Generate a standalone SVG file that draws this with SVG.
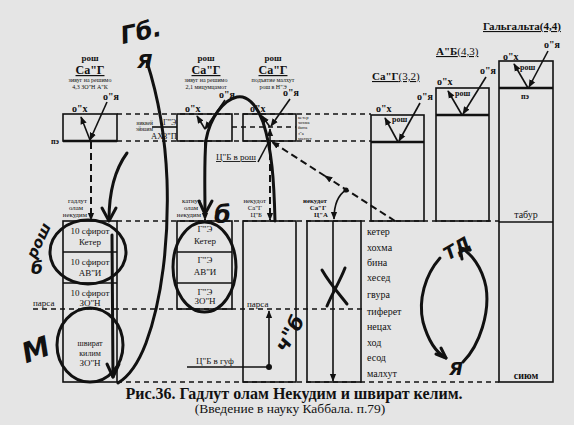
<svg xmlns="http://www.w3.org/2000/svg" width="574" height="425" viewBox="0 0 574 425">
<defs>
<marker id="ah" viewBox="0 0 10 10" refX="9" refY="5" markerWidth="8" markerHeight="8" markerUnits="userSpaceOnUse" orient="auto"><path d="M0,1 L10,5 L0,9 z" fill="#111"/></marker>
<style>
text{font-family:"Liberation Serif","Times New Roman",serif;fill:#111}
.s{stroke:#111;fill:none;stroke-width:1.6}
.k{stroke:#111;fill:none;stroke-width:2.4}
.d{stroke:#111;fill:none;stroke-width:1.3;stroke-dasharray:5 4}
.dv{stroke:#111;fill:none;stroke-width:2;stroke-dasharray:7 4;marker-end:url(#ah)}
.a{stroke:#111;fill:none;stroke-width:1.6;marker-end:url(#ah)}
.h{stroke:#111;fill:none;stroke-width:3;stroke-linecap:round;stroke-linejoin:round}
.hw{font-family:"DejaVu Sans",sans-serif;font-weight:bold;font-style:italic}
.bo{font-weight:bold}
.c{text-anchor:middle}
.r{text-anchor:end}
.u{text-decoration:underline}
.t5{font-size:5.5px}
.t4{font-size:4.6px}
.t6{font-size:6px}
.t7{font-size:6.8px}
.t9{font-size:9px}
.t10{font-size:10px}
</style>
</defs>
<rect x="0" y="0" width="574" height="425" fill="#e5e5e5"/>

<g id="connectors">
<line class="d" x1="117" y1="114" x2="371" y2="114"/>
<line class="d" x1="117" y1="141" x2="371" y2="141"/>
<line class="d" x1="232" y1="127" x2="296" y2="127"/>
<line class="d" x1="117" y1="221" x2="499" y2="221"/>
<line class="d" x1="33" y1="309" x2="362" y2="309"/>
<line class="d" x1="117" y1="382" x2="499" y2="382"/>
<line class="dv" x1="91" y1="142" x2="91" y2="220"/>
<line class="dv" x1="205" y1="142" x2="205" y2="220"/>
<line class="dv" x1="270" y1="142" x2="270" y2="220"/>
<line class="dv" x1="395" y1="221" x2="325" y2="176"/>
<line class="dv" x1="325" y1="176" x2="272" y2="142"/>
<circle cx="346" cy="190" r="2.6" fill="#111"/>
<path class="a" d="M346,190 C338,195 334,205 334,219"/>
<line class="s" x1="258" y1="162" x2="268" y2="143"/>
</g>

<g id="labels-top">
<text class="c bo t9" x="90" y="61">рош</text>
<text class="c bo u" x="90" y="74" font-size="12">Са"Г</text>
<text class="c t6" x="90" y="82">зивуг на решимо</text>
<text class="c t6" x="90" y="88.5">4,3 ЗО"Н А"К</text>
<text class="c bo t9" x="206" y="61">рош</text>
<text class="c bo u" x="206" y="74" font-size="12">Са"Г</text>
<text class="c t6" x="206" y="82">зивуг на решимо</text>
<text class="c t6" x="206" y="88.5">2,1 мицумцамот</text>
<text class="c bo t9" x="273" y="61">рош</text>
<text class="c bo u" x="273" y="74" font-size="12">Са"Г</text>
<text class="c t6" x="273" y="82">подъятие малхут</text>
<text class="c t6" x="273" y="88.5">рош в Н"Э</text>
</g>

<g id="rosh1">
<rect class="s" x="63" y="114" width="54" height="27"/>
<line class="k" x1="63" y1="141" x2="117" y2="141"/>
<text class="bo t10" x="72" y="112">о"х</text>
<text class="bo t10" x="103" y="100">о"я</text>
<line class="a" x1="107" y1="102" x2="90" y2="140"/>
<line class="a" x1="90" y1="140" x2="81" y2="117"/>
<text class="bo" font-size="8" x="51" y="144">пэ</text>
</g>

<g id="nikvey">
<text class="r t5" x="153" y="125">никвей</text>
<text class="r t5" x="153" y="131">эйнаим</text>
<text font-size="8" x="163" y="125">Г"Э</text>
<line class="s" x1="152" y1="127" x2="177" y2="127" stroke-width="1"/>
<text font-size="8.5" x="151" y="139">АХЗ"П</text>
</g>

<g id="rosh2">
<rect class="s" x="177" y="114" width="55" height="27"/>
<text class="bo t10" x="185" y="112">о"х</text>
<text class="bo t10" x="219" y="98">о"я</text>
<line class="a" x1="225" y1="100" x2="205" y2="129"/>
<line class="a" x1="205" y1="129" x2="197" y2="116"/>
</g>

<g id="rosh3">
<rect class="s" x="243" y="114" width="53" height="27"/>
<text class="bo t10" x="250" y="112">о"х</text>
<text class="bo t10" x="283" y="96">о"я</text>
<line class="a" x1="290" y1="99" x2="271" y2="126"/>
<line class="a" x1="270" y1="127" x2="262" y2="116"/>
<line class="a" x1="270" y1="141" x2="270" y2="129"/>
<text class="t4" x="298" y="119">кетер</text>
<text class="t4" x="298" y="124.2">хохма</text>
<text class="t4" x="298" y="129.4">бина</text>
<text class="t4" x="298" y="134.6">з"а</text>
<text class="t4" x="298" y="139.8">малхут</text>
<text class="u t9" x="216" y="160">Ц"Б в рош</text>
</g>

<g id="col1">
<text class="r t7" x="87" y="202.5">гадлут</text>
<text class="r t7" x="83" y="209.7">олам</text>
<text class="r t7" x="87" y="217">некудим</text>
<rect class="s" x="63" y="221" width="54" height="161"/>
<line class="s" x1="63" y1="252" x2="117" y2="252"/>
<line class="s" x1="63" y1="283" x2="117" y2="283"/>
<text class="c t9" x="90" y="234">10 сфирот</text>
<text class="c t9" x="90" y="245">Кетер</text>
<text class="c t9" x="90" y="265">10 сфирот</text>
<text class="c t9" x="90" y="276">АВ"И</text>
<text class="c t9" x="90" y="296">10 сфирот</text>
<text class="c t9" x="90" y="306">ЗО"Н</text>
<text class="t9" x="33" y="306">парса</text>
<text class="c" font-size="8" x="90" y="346">швират</text>
<text class="c" font-size="8" x="90" y="356">килим</text>
<text class="c t9" x="90" y="366">ЗО"Н</text>
</g>

<g id="col2">
<text class="r t7" x="201" y="202.5">катнут</text>
<text class="r t7" x="198" y="209.7">олам</text>
<text class="r t7" x="201" y="217">некудим</text>
<rect class="s" x="177" y="221" width="55" height="88"/>
<line class="s" x1="177" y1="252" x2="232" y2="252"/>
<line class="s" x1="177" y1="283" x2="232" y2="283"/>
<text class="c t9" x="205" y="232">Г"Э</text>
<text class="c t9" x="205" y="244">Кетер</text>
<text class="c t9" x="205" y="263">Г"Э</text>
<text class="c t9" x="205" y="275">АВ"И</text>
<text class="c t9" x="205" y="295">Г"Э</text>
<text class="c t9" x="205" y="304">ЗО"Н</text>
</g>

<g id="col3">
<text class="r t7" x="266" y="202.5">некудот</text>
<text class="r t7" x="262" y="209.7">Са"Г</text>
<text class="r t7" x="262" y="217">Ц"Б</text>
<rect class="s" x="243" y="221" width="53" height="161"/>
<text class="t9" x="247" y="307">парса</text>
<line class="a" x1="269" y1="367" x2="269" y2="311"/>
<line class="s" x1="187" y1="367" x2="269" y2="367" stroke-width="1.2"/>
<circle cx="269" cy="367" r="3" fill="#111"/>
<text class="t9" x="196" y="364">Ц"Б в гуф</text>
</g>

<g id="col4">
<text class="c bo t7" x="315" y="202.5">некудот</text>
<text class="c bo t7" x="318" y="209.7">Са"Г</text>
<text class="c bo t7" x="321" y="217">Ц"А</text>
<rect class="s" x="307" y="221" width="54" height="161"/>
<line class="a" x1="333" y1="221" x2="333" y2="381"/>
</g>

<g id="sfirot-list">
<text class="t10" x="367" y="235">кетер</text>
<text class="t10" x="367" y="251">хохма</text>
<text class="t10" x="367" y="266">бина</text>
<text class="t10" x="367" y="281">хесед</text>
<text class="t10" x="367" y="298">гвура</text>
<text class="t10" x="367" y="315">тиферет</text>
<text class="t10" x="367" y="330">нецах</text>
<text class="t10" x="367" y="346">ход</text>
<text class="t10" x="367" y="361">есод</text>
<text class="t10" x="367" y="377">малхут</text>
</g>

<g id="sag32">
<text class="u" font-size="11" x="372" y="80"><tspan class="bo">Са"Г</tspan>(3,2)</text>
<rect class="s" x="371" y="115" width="53" height="106"/>
<line class="k" x1="371" y1="142" x2="424" y2="142"/>
<text class="bo t10" x="376" y="112">о"х</text>
<text class="bo t10" x="417" y="100">о"я</text>
<text class="bo" font-size="8" x="392" y="122">рош</text>
<line class="a" x1="420" y1="103" x2="399" y2="141"/>
<line class="a" x1="398" y1="142" x2="385" y2="118"/>
</g>

<g id="ab43">
<text class="u" font-size="11" x="436" y="55"><tspan class="bo">А"Б</tspan>(4,3)</text>
<rect class="s" x="436" y="88" width="53" height="133"/>
<line class="k" x1="436" y1="115" x2="489" y2="115"/>
<text class="bo t10" x="437" y="85">о"х</text>
<text class="bo t10" x="480" y="74">о"я</text>
<text class="bo" font-size="8" x="455" y="96">рош</text>
<line class="a" x1="486" y1="77" x2="463" y2="114"/>
<line class="a" x1="462" y1="115" x2="448" y2="91"/>
</g>

<g id="galgalta">
<text class="u bo" font-size="11" x="483" y="30">Гальгальта(4,4)</text>
<rect class="s" x="499" y="61" width="54" height="321"/>
<line class="k" x1="499" y1="88" x2="553" y2="88"/>
<line class="s" x1="499" y1="222" x2="553" y2="222"/>
<text class="bo t10" x="503" y="60">о"х</text>
<text class="bo t10" x="544" y="48">о"я</text>
<text class="bo" font-size="8" x="520" y="70">рош</text>
<text class="bo" font-size="8" x="521" y="99">пэ</text>
<line class="a" x1="548" y1="51" x2="529" y2="87"/>
<line class="a" x1="528" y1="88" x2="514" y2="64"/>
<text class="c t10" x="526" y="218">табур</text>
<text class="c bo t10" x="526" y="379">сиюм</text>
</g>

<g id="handwriting">
<path class="h" d="M147,62 C156,90 165,130 167,180 C169,240 162,300 146,343 C138,364 128,377 118,383"/>
<path class="h" d="M127,153 C116,168 109,190 109,220"/>
<path class="h" d="M102,208 L109,221 L116,208"/>
<path class="h" d="M112,235 L113,377"/>
<path class="h" d="M107,364 L113,377 L119,364"/>
<ellipse class="h" cx="88" cy="252" rx="38" ry="32"/>
<ellipse class="h" cx="90" cy="345" rx="33" ry="37"/>
<path class="h" d="M275,221 C274,180 272,150 263,122 C256,103 246,95 237,97 C223,100 210,118 206,140 C204,162 205,190 205,213"/>
<path class="h" d="M199,201 L205,214 L212,201"/>
<ellipse class="h" cx="204.5" cy="267" rx="31.5" ry="45"/>
<path class="h" d="M322,270 C330,284 340,295 347,304"/>
<path class="h" d="M345,268 C340,281 332,294 327,306"/>
<path class="h" d="M440,258 C425,275 418,300 423,322 C428,340 435,352 446,358"/>
<path class="h" d="M436,354 L446,358 L441,348"/>
<path class="h" d="M463,362 C480,345 490,312 486,287 C482,267 471,253 461,248"/>
<path class="h" d="M462,259 L460,248 L470,250"/>
<text class="hw" font-size="24" x="120" y="40" transform="rotate(-12 140 30)">Гб.</text>
<text class="hw" font-size="20" x="137" y="68">Я</text>
<text class="hw" font-size="15" x="18" y="258" transform="rotate(-65 28 245)">рош</text>
<text class="hw" font-size="17" x="31" y="274">б</text>
<text class="hw" font-size="28" x="20" y="360" transform="rotate(-20 33 345)">М</text>
<text class="hw" font-size="24" x="214" y="223">б</text>
<text class="hw" font-size="20" x="268" y="350" transform="rotate(-60 280 336)">ч"б</text>
<text class="hw" font-size="18" x="438" y="256" transform="rotate(-30 452 240)">ТД</text>
<text class="hw" font-size="18" x="449" y="375">Я</text>
</g>

<g id="caption">
<text class="c bo" font-size="16" x="294" y="399">Рис.36. Гадлут олам Некудим и швират келим.</text>
<text class="c" font-size="13.5" x="290" y="413">(Введение в науку Каббала. п.79)</text>
</g>
</svg>
